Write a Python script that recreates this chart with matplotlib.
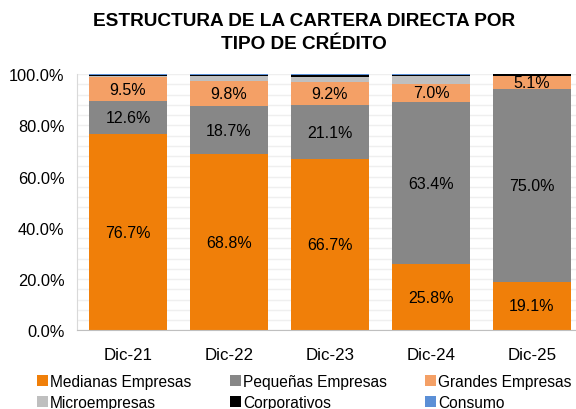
import numpy as np
import matplotlib.pyplot as plt

plt.rcParams["font.family"] = ["Liberation Sans", "DejaVu Sans"]

# data (percent of portfolio)
periods = ["Dic-21", "Dic-22", "Dic-23", "Dic-24", "Dic-25"]
medianas = [76.7, 68.8, 66.7, 25.8, 19.1]
pequenas = [12.6, 18.7, 21.1, 63.4, 75.0]
grandes = [9.5, 9.8, 9.2, 7.0, 5.1]
micro = [0.5, 1.8, 2.0, 3.0, 0.1]
corporativos = [0.4, 0.5, 0.6, 0.4, 0.6]
consumo = [0.3, 0.4, 0.4, 0.4, 0.1]

series = [
    ("Medianas Empresas", medianas, "#F07F09", True),
    ("Pequeñas Empresas", pequenas, "#878787", True),
    ("Grandes Empresas", grandes, "#F4A066", True),
    ("Microempresas", micro, "#BFBFBF", False),
    ("Corporativos", corporativos, "#000000", False),
    ("Consumo", consumo, "#5B8FD6", False),
]

fig = plt.figure(figsize=(5.76, 4.10), dpi=100)
ax = fig.add_axes([0.1337, 0.1915, 0.8663, 0.6255])

x = np.arange(len(periods))
bottom = np.zeros(len(periods))
handles = []
for name, vals, color, labeled in series:
    vals = np.array(vals)
    b = ax.bar(x, vals, 0.78, bottom=bottom, color=color, label=name, zorder=3)
    handles.append(b)
    if labeled:
        for xi, v, b0 in zip(x, vals, bottom):
            ax.text(xi, b0 + v / 2, f"{v:.1f}%", ha="center", va="center",
                    fontsize=11.5, color="black", zorder=4)
    bottom += vals

ax.set_ylim(0, 100)
ax.set_xlim(-0.505, 4.436)
ax.set_yticks(np.arange(0, 101, 20))
ax.set_yticks(np.arange(0, 101, 4), minor=True)
ax.set_yticklabels([f"{v:.1f}%" for v in range(0, 101, 20)], fontsize=11.8)
ax.set_xticks(x)
ax.set_xticklabels(periods, fontsize=12.2)
ax.tick_params(which="both", length=0)
ax.tick_params(axis="y", pad=9)
ax.tick_params(axis="x", pad=12)
ax.grid(axis="y", which="both", color="#EFEFEF", linewidth=1, zorder=0)
for s in ["top", "right"]:
    ax.spines[s].set_visible(False)
ax.spines["left"].set_color("#D9D9D9")
ax.spines["bottom"].set_color("#BFBFBF")
ax.spines["bottom"].set_zorder(4)

fig.text(0.528, 0.968, "ESTRUCTURA DE LA CARTERA DIRECTA POR\nTIPO DE CRÉDITO",
         ha="center", va="top", fontsize=13.7, fontweight="bold", linespacing=1.45)

# legend: three columns, filled row by row
col_x = [0.064, 0.399, 0.738]
for k, cx in enumerate(col_x):
    fig.legend(handles=[handles[k], handles[k + 3]], loc="center left",
               bbox_to_anchor=(cx, 1 - 393 / 410), ncol=1, frameon=False,
               fontsize=11.2, handlelength=0.72, handleheight=0.72,
               handletextpad=0.12, labelspacing=0.42, borderpad=0,
               borderaxespad=0)

fig.savefig("out.png", dpi=100)
